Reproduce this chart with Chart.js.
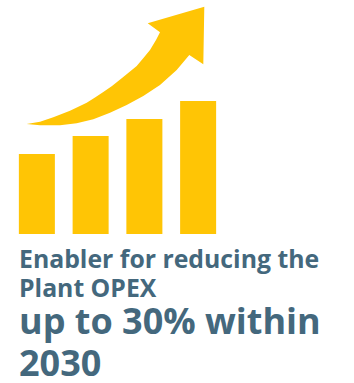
<!DOCTYPE html>
<html>
<head>
<meta charset="utf-8">
<title>Plant OPEX</title>
<script src="https://cdn.jsdelivr.net/npm/chart.js@4"></script>
<style>
  html, body { margin: 0; padding: 0; background: #fff; overflow: hidden; }
  #wrap { position: relative; width: 354px; height: 383px; }
  canvas { position: absolute; left: 0; top: 0; }
  .line {
    position: absolute; left: 19px; white-space: nowrap;
    font-family: "Open Sans", sans-serif; font-weight: 700; color: #44687d;
  }
  .small { font-size: 24.8px; line-height: 30px; }
  .big { font-size: 36px; line-height: 42px; }
</style>
</head>
<body>
<div id="wrap">
  <canvas id="chart" width="354" height="234"></canvas>
  <div class="line small" style="top:243px">Enabler for reducing the</div>
  <div class="line small" style="top:272px">Plant OPEX</div>
  <div class="line big" style="top:300px">up to 30% within</div>
  <div class="line big" style="top:342px">2030</div>
</div>
<script>
const categories = ['1', '2', '3', '4'];
const barValues = [80, 98, 115, 133];

// outline of the rising arrow, in the same units as the bars
const arrowX = [204.3, 147.7, 160, 156, 150, 143, 136.7, 130, 122, 112, 103.3, 95, 86.7, 70, 53.3, 40, 26.7,
                40, 60, 76.7, 93.3, 110, 126.7, 143.3, 160, 176.7, 189.3, 203.3];
const arrowY = [227.3, 210.7, 201.7, 194, 184, 175.5, 168, 162.5, 156, 148, 142, 136.5, 131.3, 123.3, 116.7, 112.3, 110,
                108.8, 108.8, 110.7, 114.7, 121.3, 129, 138, 149, 164, 179, 169.7];

const amber = '#ffc505';

new Chart(document.getElementById('chart').getContext('2d'), {
  type: 'bar',
  data: {
    labels: categories,
    datasets: [
      {
        data: barValues,
        backgroundColor: amber,
        grouped: false,
        categoryPercentage: 1,
        barPercentage: 0.67,
        xAxisID: 'x',
        yAxisID: 'y'
      },
      {
        type: 'scatter',
        data: arrowX.map((x, i) => ({ x: x, y: arrowY[i] })),
        showLine: true,
        fill: 'shape',
        backgroundColor: amber,
        borderWidth: 0,
        pointRadius: 0,
        tension: 0,
        xAxisID: 'xArrow',
        yAxisID: 'y'
      }
    ]
  },
  options: {
    responsive: false,
    animation: false,
    layout: { padding: { left: 10, right: 129, top: 0, bottom: 0 } },
    scales: {
      x: { display: false },
      // runs alongside the category axis so the arrow can sit over the bars
      xArrow: { type: 'linear', display: false, offset: false, min: 10, max: 225 },
      y: { display: false, min: 0, max: 234 }
    },
    plugins: {
      legend: { display: false },
      tooltip: { enabled: false }
    }
  }
});
</script>
</body>
</html>
